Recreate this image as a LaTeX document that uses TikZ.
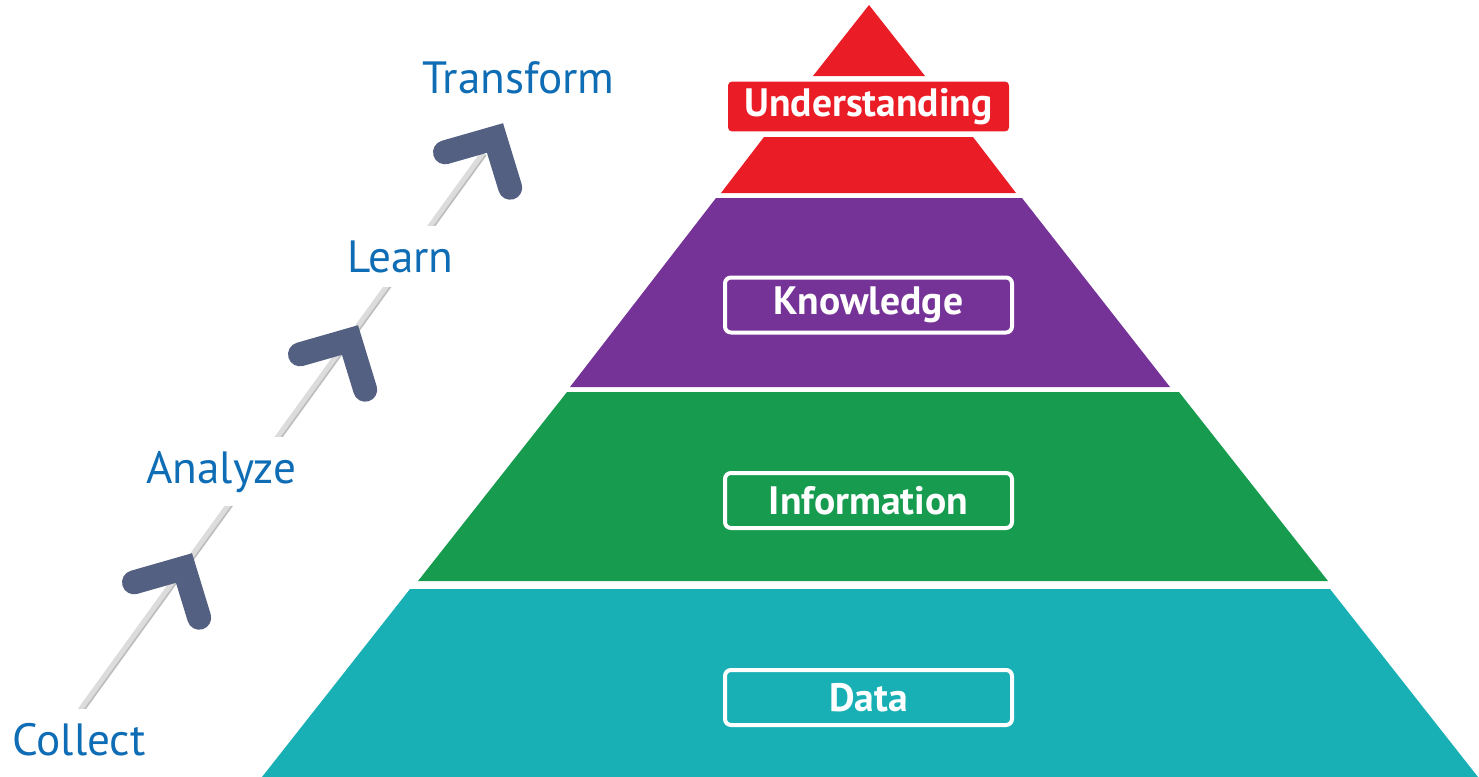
\documentclass[tikz,border=0pt]{standalone}
\usepackage{fontspec}
\setmainfont{PT Sans}
\definecolor{pyrred}{HTML}{EA1D27}
\definecolor{pyrpurple}{HTML}{753398}
\definecolor{pyrgreen}{HTML}{179C4F}
\definecolor{pyrteal}{HTML}{19B0B5}
\definecolor{chevgray}{HTML}{546081}
\definecolor{stepblue}{HTML}{0F6DB5}
\definecolor{trackgray}{HTML}{DCDCDC}
\definecolor{trackshade}{HTML}{BDBDBD}

\begin{document}
\begin{tikzpicture}[x=0.5pt,y=-0.5pt,
    lbl/.style={fill=white,text=stepblue,inner xsep=6pt,inner ysep=7pt,anchor=base west,
      font=\fontsize{22.6}{25}\selectfont},
    lvlbox/.style={draw=white,line width=2pt,rounded corners=3pt,
      minimum width=143.5pt,minimum height=27.5pt,text=white,
      font=\bfseries\fontsize{19.8}{22}\selectfont},
    chev/.style={draw=chevgray,line width=12pt,line cap=round,line join=miter},
    track/.style={draw=trackgray,line width=2.5pt}]
        \useasboundingbox (0,0) rectangle (1479,777);
        % pyramid tiers
        \fill[pyrred] (869,5) -- (925,76) -- (813,76) -- cycle;
        \fill[pyrred] (764,137) -- (973,137) -- (1016,193) -- (721,193) -- cycle;
        \fill[pyrpurple] (716,198) -- (1022,198) -- (1170,387) -- (570,387) -- cycle;
        \fill[pyrgreen] (567,392) -- (1179,392) -- (1328,581) -- (418,581) -- cycle;
        \fill[pyrteal] (410,589) -- (1330,589) -- (1478,777) -- (262,777) -- cycle;
        % level boxes
        \node[fill=pyrred,rounded corners=2pt,minimum width=140.5pt,minimum height=24.5pt,
          text=white,font=\bfseries\fontsize{19.8}{22}\selectfont]
          (understanding) at (868.5,106.5) {Understanding};
        \node[lvlbox,fill=pyrpurple] (knowledge) at (868.5,305) {Knowledge};
        \node[lvlbox,fill=pyrgreen] (information) at (868.5,500.5) {Information};
        \node[lvlbox,fill=pyrteal] (data) at (868.5,697.5) {Data};
        % track with chevrons
        \coordinate (trackA) at (67,728);
        \coordinate (trackB) at (483,153);
        \draw[track,draw=trackshade] ([shift={(1.5,1)}]trackA) -- ([shift={(1.5,1)}]trackB);
        \draw[track] (trackA) -- (trackB);
        \coordinate (chevA) at (184,568);
        \coordinate (chevB) at (350,340);
        \coordinate (chevC) at (495,138);
        \draw[chev] (chevA) ++(164:52) -- (chevA) -- ++(73:52);
        \draw[chev] (chevB) ++(164:52) -- (chevB) -- ++(73:52);
        \draw[chev] (chevC) ++(164:52) -- (chevC) -- ++(73:52);
        % step labels
        \node[lbl] (transform) at (410,93) {Transform};
        \node[lbl] (learn) at (335,272) {Learn};
        \node[lbl] (analyze) at (134,483) {Analyze};
        \node[lbl] (collect) at (0,755) {Collect};
\end{tikzpicture}
\end{document}
